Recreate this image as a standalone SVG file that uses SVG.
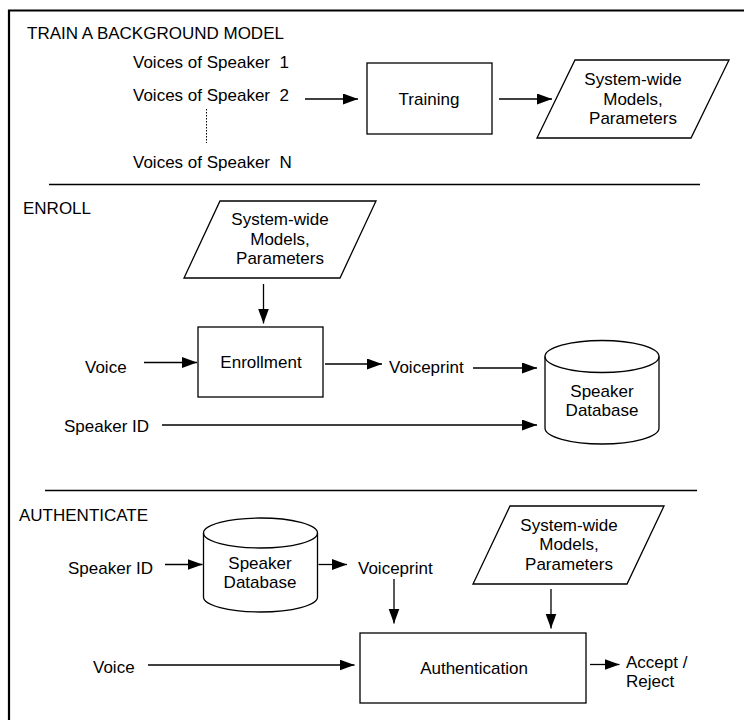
<svg xmlns="http://www.w3.org/2000/svg" width="744" height="720" viewBox="0 0 744 720">
<defs>
<marker id="ah" markerWidth="16" markerHeight="12" refX="15" refY="5.5" orient="auto" markerUnits="userSpaceOnUse">
<path d="M0,0 L15,5.5 L0,11 Z" fill="#000"/>
</marker>
</defs>
<style>
text{font-family:"Liberation Sans",Arial,sans-serif;font-size:17px;fill:#000}
.c{text-anchor:middle}
.s{fill:#fff;stroke:#000;stroke-width:1.3}
.ln{fill:none;stroke:#000;stroke-width:1.3}
.a{fill:none;stroke:#000;stroke-width:1.3;marker-end:url(#ah)}
</style>
<rect width="744" height="720" fill="#fff"/>
<path d="M9,720 V10.5 H744" fill="none" stroke="#000" stroke-width="2.2"/>
<line x1="49" y1="184.5" x2="700" y2="184.5" stroke="#000" stroke-width="1.3"/>
<line x1="45" y1="490.5" x2="697" y2="490.5" stroke="#000" stroke-width="1.3"/>

<g id="train-section">
<text x="27" y="39">TRAIN A BACKGROUND MODEL</text>
<text x="133" y="68" xml:space="preserve">Voices of Speaker  1</text>
<text x="133" y="101" xml:space="preserve">Voices of Speaker  2</text>
<text x="133" y="168" xml:space="preserve">Voices of Speaker  N</text>
<line x1="206.5" y1="109" x2="206.5" y2="143" stroke="#000" stroke-width="1" stroke-dasharray="1.5,1.5"/>
</g>
<g id="training">
<rect class="s" x="367" y="63" width="125" height="71"/>
<text class="c" x="429" y="105">Training</text>
</g>
<g id="params-train">
<path class="s" d="M575,60 H729 L691,138 H537 Z"/>
<text class="c" x="633" y="85">System-wide</text>
<text class="c" x="633" y="104.5">Models,</text>
<text class="c" x="633" y="124">Parameters</text>
</g>

<g id="enroll-section">
<text x="23" y="214">ENROLL</text>
<text x="85" y="373">Voice</text>
<text x="64" y="432">Speaker ID</text>
<text x="389" y="373">Voiceprint</text>
</g>
<g id="params-enroll">
<path class="s" d="M220,201 H376 L340,278 H184 Z"/>
<text class="c" x="280" y="225">System-wide</text>
<text class="c" x="280" y="244.5">Models,</text>
<text class="c" x="280" y="264">Parameters</text>
</g>
<g id="enrollment">
<rect class="s" x="198" y="327" width="125" height="70"/>
<text class="c" x="261" y="368">Enrollment</text>
</g>
<g id="db-enroll">
<path class="s" d="M545,356.5 V428 A57,16 0 0 0 659,428 V356.5 A57,16 0 0 0 545,356.5 Z"/>
<path class="ln" d="M545,356.5 A57,16 0 0 0 659,356.5"/>
<text class="c" x="602" y="397">Speaker</text>
<text class="c" x="602" y="416">Database</text>
</g>

<g id="auth-section">
<text x="19" y="521">AUTHENTICATE</text>
<text x="68" y="574">Speaker ID</text>
<text x="358" y="574">Voiceprint</text>
<text x="93" y="673">Voice</text>
<text x="626" y="668">Accept /</text>
<text x="626" y="687">Reject</text>
</g>
<g id="db-auth">
<path class="s" d="M203.5,533 V597 A57,15 0 0 0 317.5,597 V533 A57,15 0 0 0 203.5,533 Z"/>
<path class="ln" d="M203.5,533 A57,15 0 0 0 317.5,533"/>
<text class="c" x="260" y="569">Speaker</text>
<text class="c" x="260" y="588">Database</text>
</g>
<g id="params-auth">
<path class="s" d="M510,506 H664 L627,584 H473 Z"/>
<text class="c" x="569" y="531">System-wide</text>
<text class="c" x="569" y="550">Models,</text>
<text class="c" x="569" y="569.5">Parameters</text>
</g>
<g id="authentication">
<rect class="s" x="360" y="633" width="226" height="70"/>
<text class="c" x="474" y="674">Authentication</text>
</g>

<g id="connectors">
<line class="a" x1="305" y1="99" x2="358" y2="99"/>
<line class="a" x1="499" y1="99" x2="552" y2="99"/>
<line class="a" x1="263.5" y1="284" x2="263.5" y2="323.5"/>
<line class="a" x1="144" y1="362.5" x2="197" y2="362.5"/>
<line class="a" x1="325" y1="364" x2="382" y2="364"/>
<line class="a" x1="473" y1="368" x2="537" y2="368"/>
<line class="a" x1="162" y1="425" x2="537" y2="425"/>
<line class="a" x1="165" y1="564.5" x2="202.5" y2="564.5"/>
<line class="a" x1="318.5" y1="564.5" x2="347" y2="564.5"/>
<line class="a" x1="394" y1="579" x2="394" y2="623.5"/>
<line class="a" x1="551" y1="589" x2="551" y2="628.5"/>
<line class="a" x1="148" y1="665" x2="354.5" y2="665"/>
<line class="a" x1="590" y1="664.5" x2="619.5" y2="664.5"/>
</g>
</svg>
